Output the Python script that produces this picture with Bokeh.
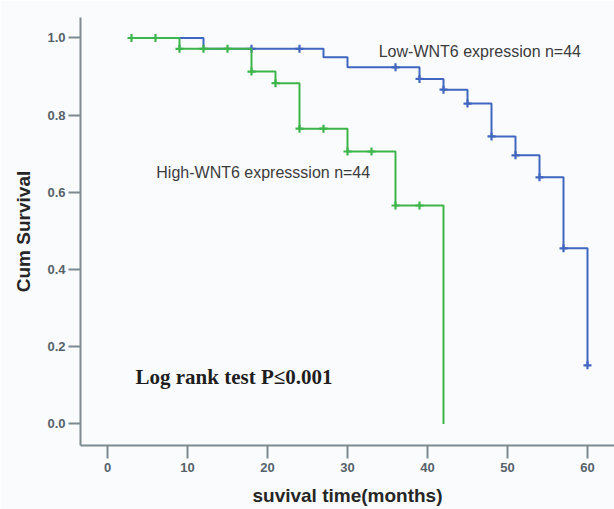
from bokeh.plotting import figure
from bokeh.models import FixedTicker, CustomJSTickFormatter
from bokeh.core.properties import value
from bokeh.embed import file_html
from bokeh.resources import INLINE

# High-WNT6 (green) step curve
high_t = [3, 9, 18, 21, 24, 30, 36, 42]
high_s = [1.0, 0.972, 0.913, 0.883, 0.765, 0.706, 0.566, 0.0]
high_cens_t = [3, 6, 9, 12, 15, 18, 21, 24, 27, 30, 33, 36, 39]
high_cens_s = [1.0, 1.0, 0.972, 0.972, 0.972, 0.913, 0.883, 0.765, 0.765, 0.706, 0.706, 0.566, 0.566]

# Low-WNT6 (blue) step curve
low_t = [3, 12, 27, 30, 39, 42, 45, 48, 51, 54, 57, 60]
low_s = [1.0, 0.972, 0.950, 0.924, 0.894, 0.866, 0.830, 0.745, 0.696, 0.639, 0.455, 0.152]
low_cens_t = [18, 24, 36, 39, 42, 45, 48, 51, 54, 57, 60]
low_cens_s = [0.972, 0.972, 0.924, 0.894, 0.866, 0.830, 0.745, 0.696, 0.639, 0.455, 0.152]

x_ticks = [0, 10, 20, 30, 40, 50, 60]
y_ticks = [0.0, 0.2, 0.4, 0.6, 0.8, 1.0]

BLUE = "#4066bf"
GREEN = "#3cb54a"
AXIS = "#7d8a90"
TICKLBL = "#56626a"
BG = "#fafbfd"

p = figure(width=614, height=509, output_backend="svg", toolbar_location=None,
           x_range=(-3.375, 63.375), y_range=(-0.0557, 1.0531),
           min_border_left=80, min_border_right=0, min_border_top=17, min_border_bottom=64)
p.background_fill_color = BG
p.border_fill_color = BG
p.outline_line_color = None
p.grid.visible = False

p.xaxis.ticker = FixedTicker(ticks=x_ticks)
p.yaxis.ticker = FixedTicker(ticks=y_ticks)
p.yaxis.formatter = CustomJSTickFormatter(code="return tick.toFixed(1);")

for ax in (p.xaxis, p.yaxis):
    ax.axis_line_color = AXIS
    ax.axis_line_width = 2
    ax.major_tick_line_color = AXIS
    ax.major_tick_line_width = 2
    ax.minor_tick_line_color = None
    ax.major_tick_in = 0
    ax.major_label_text_font = "Liberation Sans"
    ax.major_label_text_font_size = "13px"
    ax.major_label_text_font_style = "bold"
    ax.major_label_text_color = TICKLBL
    ax.axis_label_text_font = "Liberation Sans"
    ax.axis_label_text_font_style = "bold"
    ax.axis_label_text_font_size = "19px"
    ax.axis_label_text_color = "#262626"

p.xaxis.major_tick_out = 13
p.yaxis.major_tick_out = 12
p.xaxis.major_label_standoff = 4
p.yaxis.major_label_standoff = 3
p.xaxis.axis_label = "suvival time(months)"
p.yaxis.axis_label = "Cum Survival"
p.xaxis.axis_label_standoff = 10
p.yaxis.axis_label_standoff = 10

# Curves
p.step(low_t, low_s, mode="after", line_color=BLUE, line_width=2)
p.scatter(low_cens_t, low_cens_s, marker="cross", size=8, line_width=2.2, line_color=BLUE)
p.step(high_t, high_s, mode="after", line_color=GREEN, line_width=2)
p.scatter(high_cens_t, high_cens_s, marker="cross", size=8, line_width=2.2, line_color=GREEN)

p.text(x=[33.9], y=[0.966], text=["Low-WNT6 expression n=44"], text_font=value("Liberation Sans"),
       text_font_size="16px", text_color="#3c3c3c", text_baseline="middle", text_align="left")
p.text(x=[6.1], y=[0.652], text=["High-WNT6 expresssion n=44"], text_font=value("Liberation Sans"),
       text_font_size="16px", text_color="#3c3c3c", text_baseline="middle", text_align="left")
p.text(x=[3.5], y=[0.121], text=["Log rank test P\u22640.001"], text_font=value("Liberation Serif"),
       text_font_size="21px", text_font_style="bold", text_color="#1e1e1e",
       text_baseline="middle", text_align="left")

open("out.html", "w").write(file_html(p, INLINE))
